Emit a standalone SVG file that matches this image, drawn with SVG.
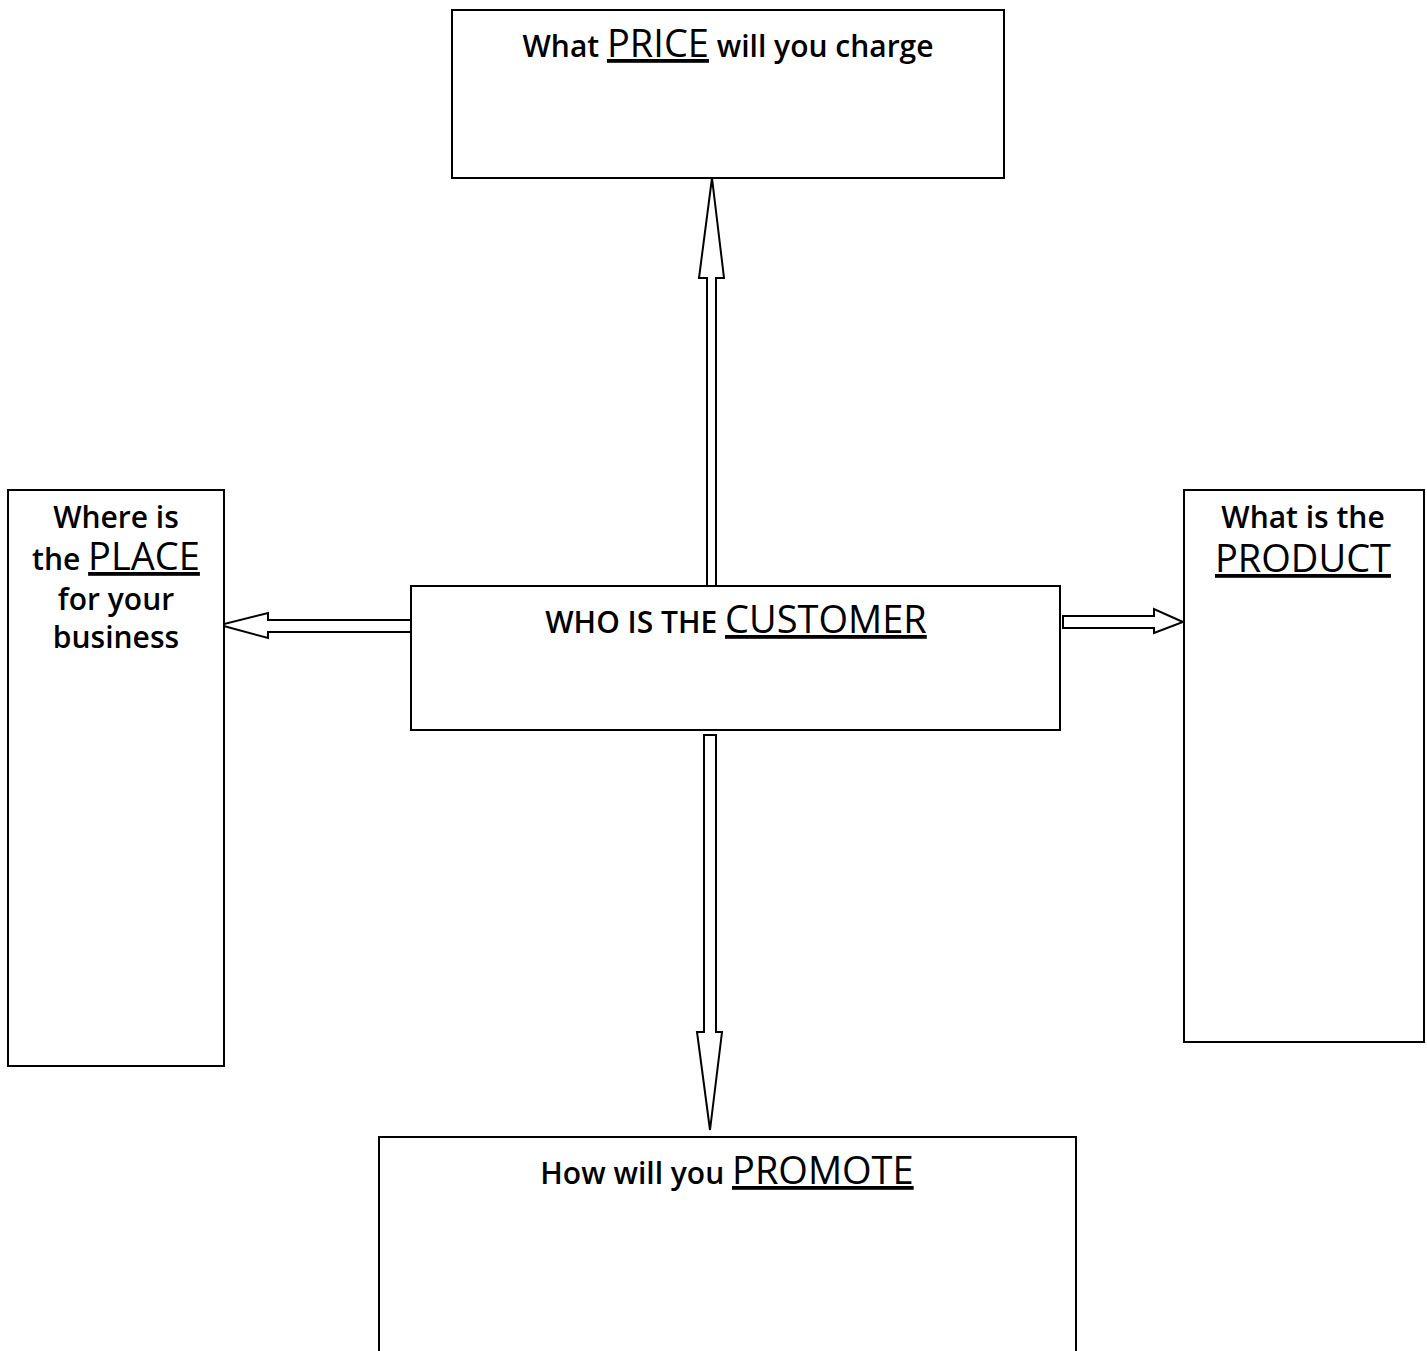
<svg xmlns="http://www.w3.org/2000/svg" width="1427" height="1351" viewBox="0 0 1427 1351">
<style>
.box{fill:#fff;stroke:#000;stroke-width:2}
.arr{fill:#fff;stroke:#000;stroke-width:2;stroke-linejoin:miter}
.t{font-family:"Open Sans","DejaVu Sans",sans-serif;font-weight:600;font-size:30px;fill:#000;text-anchor:middle}
.u{font-weight:400;font-size:38px;text-decoration:underline;text-decoration-thickness:3px}
</style>
<rect width="1427" height="1351" fill="#fff"/>
<g id="connectors">
<polygon class="arr" points="707,586 707,278 699,278 712,178 724,278 716,278 716,586"/>
<polygon class="arr" points="411,620 268,620 268,613 220,625 268,638 268,632 411,632"/>
<polygon class="arr" points="1063,616 1154,616 1154,609 1183,622 1154,633 1154,628 1063,628"/>
<polygon class="arr" points="704,735 716,735 716,1032 722,1032 710,1130 697,1032 704,1032"/>
</g>
<g id="price">
<rect class="box" x="452" y="10" width="552" height="168"/>
<text class="t" x="728" y="57">What <tspan class="u">PRICE</tspan> will you charge</text>
</g>
<g id="customer">
<rect class="box" x="411" y="586" width="649" height="144"/>
<text class="t" x="736" y="633">WHO IS THE <tspan class="u">CUSTOMER</tspan></text>
</g>
<g id="place">
<rect class="box" x="8" y="490" width="216" height="576"/>
<text class="t" x="116" y="528">Where is</text>
<text class="t" x="116" y="570">the <tspan class="u">PLACE</tspan></text>
<text class="t" x="116" y="610">for your</text>
<text class="t" x="116" y="648">business</text>
</g>
<g id="product">
<rect class="box" x="1184" y="490" width="240" height="552"/>
<text class="t" x="1303" y="528">What is the</text>
<text class="t" x="1303" y="572"><tspan class="u">PRODUCT</tspan></text>
</g>
<g id="promote">
<rect class="box" x="379" y="1137" width="697" height="230"/>
<text class="t" x="727" y="1184">How will you <tspan class="u">PROMOTE</tspan></text>
</g>
</svg>
